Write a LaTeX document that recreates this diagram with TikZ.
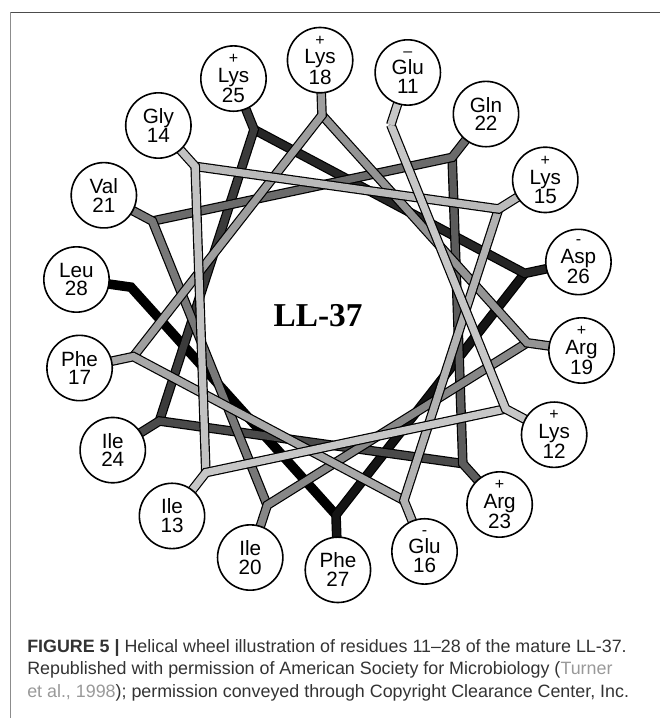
\documentclass[tikz,border=0pt]{standalone}
\usepackage{fontspec}
\setmainfont{Liberation Serif}
\setsansfont{Liberation Sans}
\usepackage{tikz}
\tikzstyle{residue} = [draw, circle, fill=white, line width=1.2pt, minimum size=49pt, inner sep=0pt, align=center, font=\sffamily\fontsize{15.5}{14}\selectfont]
\tikzstyle{bond} = [line width=7.2pt, line join=miter]
\tikzstyle{caption} = [anchor=base west, inner sep=0pt, text=black!80, font=\sffamily\fontsize{13.4}{16}\selectfont]
\newcommand{\chg}[1]{{\fontsize{12}{12}\selectfont #1}\\[0pt]}

\begin{document}
\begin{tikzpicture}[x=0.75pt, y=0.75pt]
  \useasboundingbox (0,0) rectangle (660,718);
  \draw[black!45, line width=1pt] (10.7,0) -- (10.7,705.7);
  \draw[black!70, line width=1pt] (10.7,705.7) -- (660,705.7);

  % wheel: residue n at 72-100(n-11) degrees
  \begin{scope}[shift={(329,403)}]
    \foreach \n in {11,...,28}{
      \pgfmathsetmacro\ang{72-100*(\n-11)}
      \coordinate (r\n) at (\ang:255);
      \coordinate (j\n) at (\ang:200);
    }
  \end{scope}

  % bonds, back (dark) to front (light)
  \foreach \n in {28,27,...,12}{
    \pgfmathtruncatemacro\m{\n-1}
    \pgfmathtruncatemacro\lev{22+78*((\n-12)/16)^1.6}
    \draw[bond, black] (r\n) -- (j\n) -- (j\m);
    \draw[bond, line width=5.4pt, black!\lev] (r\n) -- (j\n) -- (j\m);
  }
  \draw[bond, black] (r11) -- (j11);
  \draw[bond, line width=5.4pt, black!22] (r11) -- (j11);

  \foreach \n/\txt in {11/{\chg{--}Glu\\11}, 12/{\chg{+}Lys\\12}, 13/{Ile\\13},
      14/{Gly\\14}, 15/{\chg{+}Lys\\15}, 16/{\chg{-}Glu\\16}, 17/{Phe\\17},
      18/{\chg{+}Lys\\18}, 19/{\chg{+}Arg\\19}, 20/{Ile\\20}, 21/{Val\\21},
      22/{Gln\\22}, 23/{\chg{+}Arg\\23}, 24/{Ile\\24}, 25/{\chg{+}Lys\\25},
      26/{\chg{-}Asp\\26}, 27/{Phe\\27}, 28/{Leu\\28}}
    \node[residue] (res\n) at (r\n) {\txt};

  \node[font=\bfseries\fontsize{25}{25}\selectfont] (title) at (318,402) {LL-37};

  \node[caption] (cap1) at (27,65) {\textbf{FIGURE 5 |} Helical wheel illustration of residues 11--28 of the mature LL-37.};
  \node[caption] (cap2) at (27,43) {Republished with permission of American Society for Microbiology (\textcolor{black!40}{Turner}};
  \node[caption] (cap3) at (27,21) {\textcolor{black!40}{et al., 1998}); permission conveyed through Copyright Clearance Center, Inc.};
\end{tikzpicture}
\end{document}
